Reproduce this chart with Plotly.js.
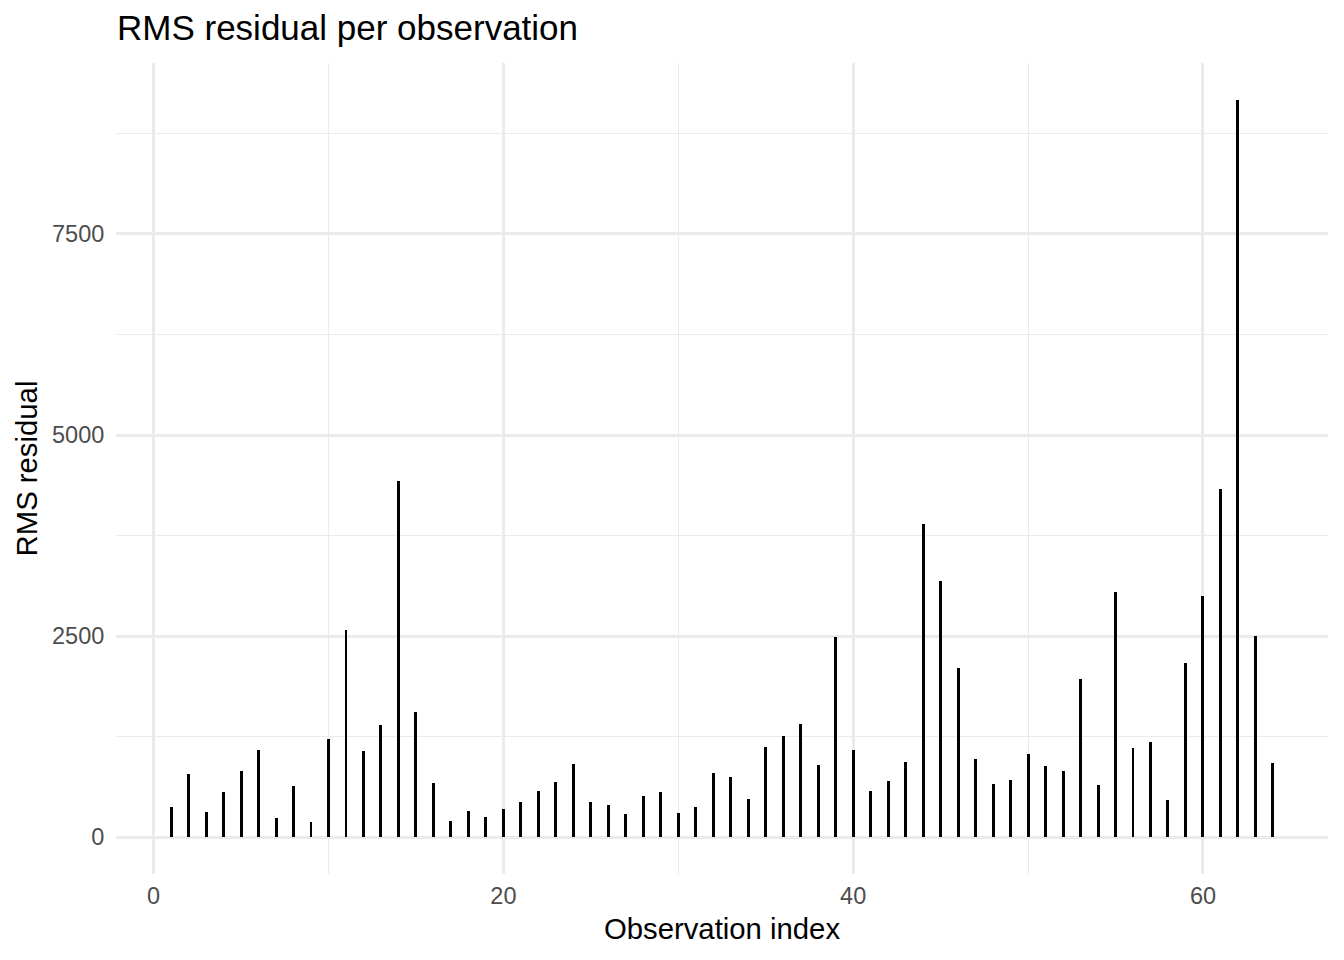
<!DOCTYPE html>
<html>
<head>
<meta charset="utf-8">
<script src="https://cdn.plot.ly/plotly-3.0.1.min.js"></script>
<style>
  html, body { margin: 0; padding: 0; background: #fff; }
  #chart { width: 1344px; height: 960px; }
</style>
</head>
<body>
<div id="chart"></div>
<script>
// observation index and RMS residual
const obsIndex = [
   1,  2,  3,  4,  5,  6,  7,  8,  9, 10, 11, 12, 13, 14, 15, 16,
  17, 18, 19, 20, 21, 22, 23, 24, 25, 26, 27, 28, 29, 30, 31, 32,
  33, 34, 35, 36, 37, 38, 39, 40, 41, 42, 43, 44, 45, 46, 47, 48,
  49, 50, 51, 52, 53, 54, 55, 56, 57, 58, 59, 60, 61, 62, 63, 64
]
const rmsResidual = [
   377,  784,  311,  556,  817, 1078,  240,  630,  187, 1215, 2571, 1070, 1389, 4432, 1551,  668,
   195,  320,  253,  352,  432,  572,  684,  912,  432,  394,  286,  510,  564,  302,  369,  792,
   750,  469, 1119, 1252, 1401,  892, 2492, 1086,  572,  693,  929, 3889, 3180, 2102,  970,  659,
   705, 1032,  887,  825, 1961,  651, 3043, 1103, 1186,  460, 2160, 2998, 4328, 9167, 2500,  920
]
const xTicks = [0, 20, 40, 60]
const yTicks = [0, 2500, 5000, 7500]

const FONT = 'Liberation Sans, Arial, sans-serif'
const GRID = '#EBEBEB'

// thin bars stand in for the vertical segments
const trace = {
    type: 'bar',
    x: obsIndex,
    y: rmsResidual,
    width: 0.17,
    marker: { color: '#000000', line: { width: 0 } },
    hoverinfo: 'x+y'
}

const layout = {
    width: 1344,
    height: 960,
    paper_bgcolor: '#ffffff',
    plot_bgcolor: '#ffffff',
    showlegend: false,
    margin: { l: 116, r: 16, t: 63, b: 86 },
    font: { family: FONT, color: '#000000' },
    title: {
        text: 'RMS residual per observation',
        font: { family: FONT, size: 35, color: '#000000' },
        xref: 'container', x: 117 / 1344, xanchor: 'left',
        yref: 'container', y: 1 - 28 / 960, yanchor: 'middle'
    },
    xaxis: {
        range: [-2.15, 67.15],
        tickvals: xTicks,
        ticks: 'outside', ticklen: 1, tickcolor: 'rgba(0,0,0,0)',
        tickfont: { family: FONT, size: 23.5, color: '#4D4D4D' },
        showgrid: true, gridcolor: GRID, gridwidth: 2.6,
        minor: { dtick: 10, tick0: 0, showgrid: true, gridcolor: GRID, gridwidth: 1.3 },
        zeroline: false, showline: false,
        title: {
            text: 'Observation index',
            font: { family: FONT, size: 29.3, color: '#000000' },
            standoff: 10
        }
    },
    yaxis: {
        range: [-458, 9625],
        tickvals: yTicks,
        tickformat: 'd',
        ticks: 'outside', ticklen: 6, tickcolor: 'rgba(0,0,0,0)',
        tickfont: { family: FONT, size: 23.5, color: '#4D4D4D' },
        showgrid: true, gridcolor: GRID, gridwidth: 2.6,
        minor: { dtick: 1250, tick0: 0, showgrid: true, gridcolor: GRID, gridwidth: 1.3 },
        zeroline: false, showline: false,
        title: {
            text: 'RMS residual',
            font: { family: FONT, size: 29.3, color: '#000000' },
            standoff: 5
        }
    },
    bargap: 0
}

Plotly.newPlot('chart', [trace], layout, { displayModeBar: false, responsive: false })
</script>
</body>
</html>
